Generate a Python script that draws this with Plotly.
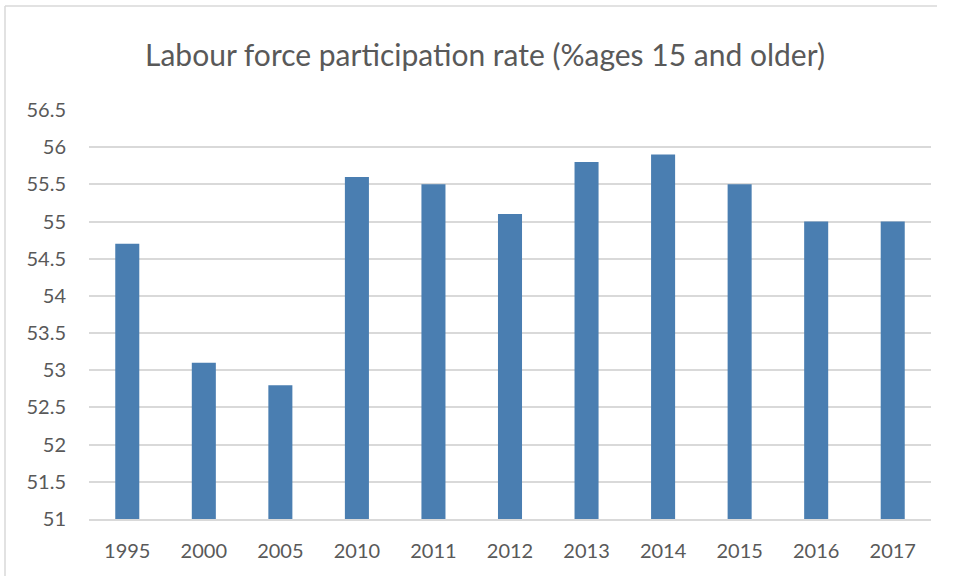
import plotly.graph_objects as go

years = ["1995", "2000", "2005", "2010", "2011", "2012", "2013", "2014", "2015", "2016", "2017"]
rate = [54.7, 53.1, 52.8, 55.6, 55.5, 55.1, 55.8, 55.9, 55.5, 55.0, 55.0]
y_ticks = [51, 51.5, 52, 52.5, 53, 53.5, 54, 54.5, 55, 55.5, 56, 56.5]
y_labels = ["51", "51.5", "52", "52.5", "53", "53.5", "54", "54.5", "55", "55.5", "56", "56.5"]

W, H = 954, 579
ml, mr, mt, mb = 89, 23, 110, 60
pw, ph = W - ml - mr, H - mt - mb

txt = "#595959"
fnt = "Lato"

fig = go.Figure()
# bars start from axis floor (51)
fig.add_trace(go.Bar(x=years, y=[v - 51 for v in rate], base=51,
                     marker_color="#4A7EB1", marker_line_width=0))

def px(x):
    return (x - ml) / pw

def py(y):
    return (H - mb - y) / ph

# chart-area border (left + top)
fig.add_shape(type="line", xref="paper", yref="paper",
              x0=px(5), x1=px(5), y0=py(6), y1=py(576),
              line=dict(color="#D9D9D9", width=1.5))
fig.add_shape(type="line", xref="paper", yref="paper",
              x0=px(5), x1=px(937), y0=py(6), y1=py(6),
              line=dict(color="#D9D9D9", width=1.5))

fig.update_layout(
    width=W, height=H,
    margin=dict(l=ml, r=mr, t=mt, b=mb),
    paper_bgcolor="white", plot_bgcolor="white",
    showlegend=False,
    bargap=0.686,
    title=dict(text="Labour force participation rate (%ages 15 and older)",
               x=485 / W, xanchor="center", y=1 - 55 / H, yanchor="middle",
               font=dict(family=fnt, size=30, color=txt)),
    font=dict(family=fnt, color=txt, size=19),
)
fig.update_xaxes(showgrid=False, showline=True, linecolor="#D9D9D9", linewidth=1.5,
                 ticks="", ticklabelstandoff=13, tickfont=dict(size=20, color=txt))
fig.update_yaxes(range=[51, 56.5], tickvals=y_ticks, ticktext=y_labels,
                 showgrid=True, gridcolor="#D9D9D9", gridwidth=1.5,
                 zeroline=False, showline=False, ticks="",
                 ticklabelstandoff=22, tickfont=dict(size=20, color=txt))

fig.write_html("out.html", config={"displayModeBar": False},
               post_script="document.body.style.margin='0';")
